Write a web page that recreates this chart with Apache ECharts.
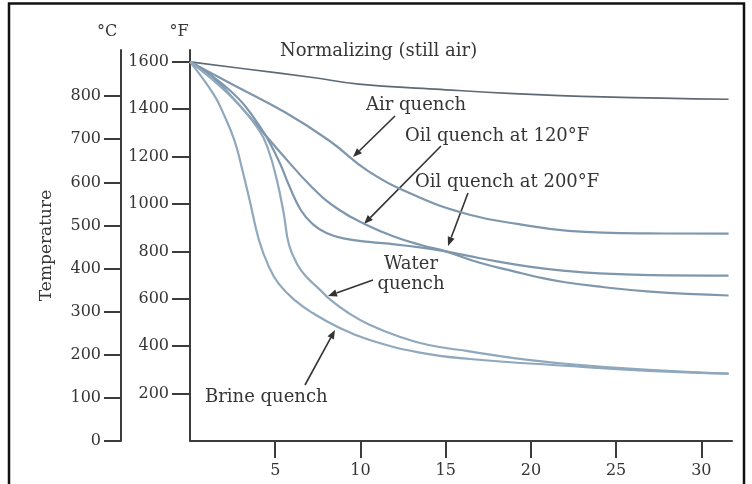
<!DOCTYPE html>
<html>
<head>
<meta charset="utf-8">
<script src="https://cdn.jsdelivr.net/npm/echarts@6/dist/echarts.min.js"></script>
<style>
html,body{margin:0;padding:0;background:#fff;}
#chart{width:752px;height:484px;}
</style>
</head>
<body>
<div id="chart"></div>
<script>
// ---- data (time in s, temperature in °F) ----
const xTickValues = [5, 10, 15, 20, 25, 30];
const fahrenheitTicks = [200, 400, 600, 800, 1000, 1200, 1400, 1600];
const celsiusTicks = [0, 100, 200, 300, 400, 500, 600, 700, 800];

const normalizingTime = [0, 3.3, 7.2, 9.9, 14.4, 19, 24.2, 31.6];
const normalizingTemp = [1600, 1570, 1534, 1506, 1485, 1466, 1452, 1442];

const airTime = [0, 2.3, 5.6, 8.2, 10.5, 13.4, 16.4, 19.3, 22.2, 26.9, 31.6];
const airTemp = [1600, 1512, 1386, 1266, 1137, 1030, 955, 915, 887, 876, 875];

const oil120Time = [0, 1.3, 3.3, 5.2, 7.2, 8.7, 10.3, 12, 13.6, 15, 17, 19, 20.5, 22, 24.2, 27, 31.6];
const oil120Temp = [1600, 1538, 1384, 1226, 1068, 978, 914, 862, 826, 800, 752, 716, 690, 670, 650, 630, 614];

const oil200Time = [0, 2.3, 4.05, 5.2, 5.8, 6.5, 7.2, 8, 9, 10.5, 12, 13.6, 15, 16.4, 18, 20, 22, 24, 27, 31.6];
const oil200Temp = [1600, 1482, 1333, 1184, 1080, 975, 915, 878, 855, 840, 830, 816, 800, 780, 758, 735, 718, 707, 700, 698];

const waterTime = [0, 2.3, 4.05, 4.6, 5.1, 5.5, 5.8, 6.3, 6.8, 7.6, 8.3, 9.3, 10.5, 12.3, 14, 16.4, 19, 22.2, 26.9, 31.6];
const waterTemp = [1600, 1461, 1312, 1228, 1100, 960, 830, 745, 695, 640, 592, 540, 492, 440, 405, 378, 350, 325, 300, 284];

const brineTime = [0, 1.4, 2.0, 2.6, 3.0, 3.5, 4.05, 4.6, 5.2, 6.2, 7.2, 8.7, 10.5, 13.4, 16.4, 22.2, 26.9, 31.6];
const brineTemp = [1600, 1462, 1375, 1270, 1165, 1016, 847, 740, 664, 591, 540, 480, 427, 374, 346, 317, 296, 284];

// ---- styling / layout ----
const FONT = 'DejaVu Serif';
const AXIS_COLOR = '#3c3c3c';
const TEXT_COLOR = '#353535';
const CURVE_COLOR = '#7f97ac';

function pairs(t, v) { return t.map((x, i) => [x, v[i]]); }
function plain(v) { return String(v); }

function curve(name, t, v, color, width) {
  return {
    name: name, type: 'line', yAxisIndex: 0,
    data: pairs(t, v), showSymbol: false, symbol: 'none',
    smooth: 0.45,
    lineStyle: { color: color, width: width },
    silent: true
  };
}

const chart = echarts.init(document.getElementById('chart'), null, { renderer: 'canvas' });

const axisCommon = {
  axisLine: { show: true, onZero: false, lineStyle: { color: AXIS_COLOR, width: 2 } },
  splitLine: { show: false }
};

const option = {
  animation: false,
  backgroundColor: '#ffffff',
  grid: { left: 190, right: 20, top: 50, bottom: 43, outerBoundsMode: 'none', containLabel: false },
  xAxis: Object.assign({
    type: 'value', min: 0, max: 31.8,
    axisTick: { show: true, inside: false, length: 17, customValues: xTickValues, lineStyle: { color: AXIS_COLOR, width: 2 } },
    axisLabel: { customValues: xTickValues, formatter: plain, margin: 22, fontFamily: FONT, fontSize: 16, color: TEXT_COLOR }
  }, axisCommon),
  yAxis: [
    Object.assign({
      type: 'value', min: 0, max: 1650, position: 'left',
      axisTick: { show: true, inside: false, length: 18, customValues: fahrenheitTicks, lineStyle: { color: AXIS_COLOR, width: 2 } },
      axisLabel: { customValues: fahrenheitTicks, formatter: plain, margin: 21, fontFamily: FONT, fontSize: 16, color: TEXT_COLOR }
    }, axisCommon),
    Object.assign({
      type: 'value', min: 0, max: 907, position: 'left', offset: 69,
      name: 'Temperature', nameLocation: 'middle', nameGap: 66,
      nameTextStyle: { fontFamily: FONT, fontSize: 17, color: TEXT_COLOR },
      axisTick: { show: true, inside: false, length: 17, customValues: celsiusTicks, lineStyle: { color: AXIS_COLOR, width: 2 } },
      axisLabel: { customValues: celsiusTicks, formatter: plain, margin: 20, fontFamily: FONT, fontSize: 16, color: TEXT_COLOR }
    }, axisCommon)
  ],
  series: [
    curve('Normalizing (still air)', normalizingTime, normalizingTemp, '#5d6a75', 1.6),
    curve('Air quench', airTime, airTemp, CURVE_COLOR, 2.2),
    curve('Oil quench at 120°F', oil120Time, oil120Temp, CURVE_COLOR, 2.2),
    curve('Oil quench at 200°F', oil200Time, oil200Temp, CURVE_COLOR, 2.2),
    curve('Water quench', waterTime, waterTemp, '#8fa8bd', 2.2),
    curve('Brine quench', brineTime, brineTemp, '#8fa8bd', 2.2)
  ]
};

// ---- annotations (text + arrows) ----
function arrow(x1, y1, x2, y2) {
  const ang = Math.atan2(y2 - y1, x2 - x1);
  const L = 9, W = 3.6;
  const bx = x2 - L * Math.cos(ang), by = y2 - L * Math.sin(ang);
  const nx = -Math.sin(ang), ny = Math.cos(ang);
  return [
    { type: 'line', silent: true, shape: { x1: x1, y1: y1, x2: bx, y2: by }, style: { stroke: '#333', lineWidth: 1.6 } },
    { type: 'polygon', silent: true, shape: { points: [[x2, y2], [bx + nx * W, by + ny * W], [bx - nx * W, by - ny * W]] }, style: { fill: '#333' } }
  ];
}
function label(text, x, y, size, align) {
  return { type: 'text', silent: true, style: { text: text, x: x, y: y, fill: TEXT_COLOR, font: (size || 18) + 'px "' + FONT + '"', textAlign: align || 'left', textVerticalAlign: 'middle' } };
}

const graphics = [
  { type: 'polyline', silent: true, shape: { points: [[9, 490], [9, 3.5], [744, 3.5], [744, 490]] }, style: { stroke: '#111', lineWidth: 2.5, fill: null } },
  label('°C', 107, 32, 16, 'center'),
  label('°F', 179, 32, 16, 'center'),
  label('Normalizing (still air)', 280, 51),
  label('Air quench', 366, 105),
  label('Oil quench at 120°F', 405, 136),
  label('Oil quench at 200°F', 415, 182),
  label('Water', 411, 264, 18, 'center'),
  label('quench', 411, 284, 18, 'center'),
  label('Brine quench', 205, 397)
].concat(
  arrow(395, 116, 353, 157),
  arrow(441, 146, 364, 224),
  arrow(468, 193, 448, 246),
  arrow(373, 280, 328, 296),
  arrow(305, 385, 335, 330)
);
option.graphic = { elements: graphics };

chart.setOption(option);
</script>
</body>
</html>
